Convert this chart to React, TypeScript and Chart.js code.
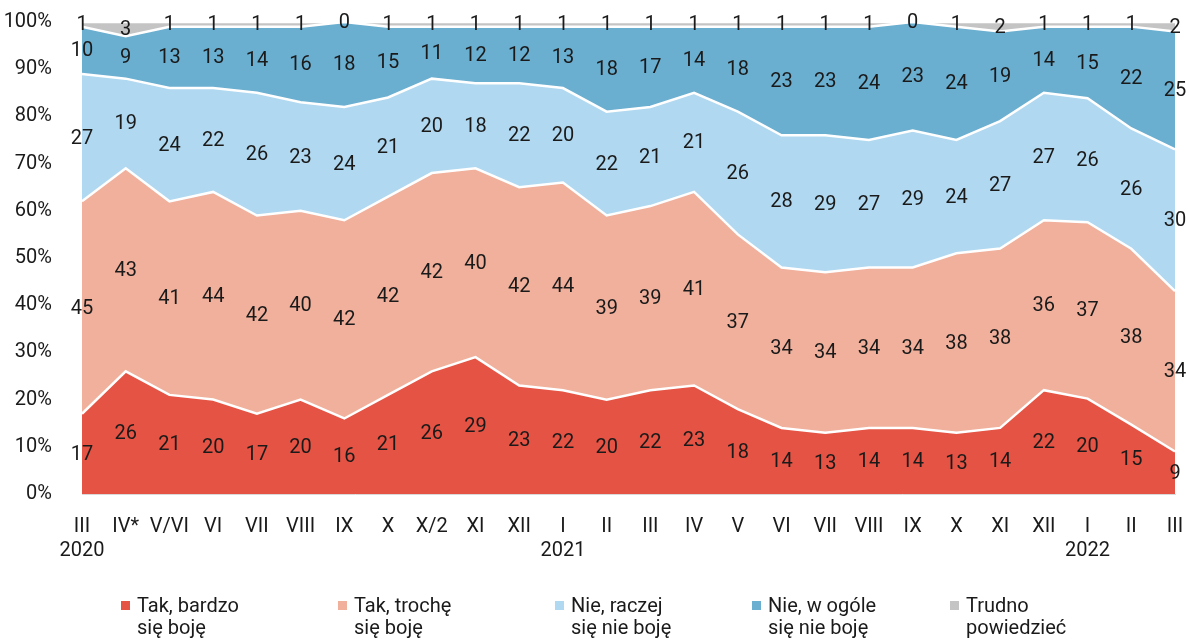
import React, { useEffect, useRef } from "react";
import { Chart, registerables } from "chart.js";

Chart.register(...registerables);

const categories: (string | string[])[] = [
  ["III", "2020"], "IV*", "V/VI", "VI", "VII", "VIII", "IX", "X", "X/2", "XI", "XII",
  ["I", "2021"], "II", "III", "IV", "V", "VI", "VII", "VIII", "IX", "X", "XI", "XII",
  ["I", "2022"], "II", "III",
];

const takBardzo = [17, 26, 21, 20, 17, 20, 16, 21, 26, 29, 23, 22, 20, 22, 23, 18, 14, 13, 14, 14, 13, 14, 22, 20, 15, 9];
const takTroche = [45, 43, 41, 44, 42, 40, 42, 42, 42, 40, 42, 44, 39, 39, 41, 37, 34, 34, 34, 34, 38, 38, 36, 37, 38, 34];
const nieRaczej = [27, 19, 24, 22, 26, 23, 24, 21, 20, 18, 22, 20, 22, 21, 21, 26, 28, 29, 27, 29, 24, 27, 27, 26, 26, 30];
const nieWOgole = [10, 9, 13, 13, 14, 16, 18, 15, 11, 12, 12, 13, 18, 17, 14, 18, 23, 23, 24, 23, 24, 19, 14, 15, 22, 25];
const trudno = [1, 3, 1, 1, 1, 1, 0, 1, 1, 1, 1, 1, 1, 1, 1, 1, 1, 1, 1, 0, 1, 2, 1, 1, 1, 2];

const seriesNames: string[][] = [
  ["Tak, bardzo", "się boję"],
  ["Tak, trochę", "się boję"],
  ["Nie, raczej", "się nie boję"],
  ["Nie, w ogóle", "się nie boję"],
  ["Trudno", "powiedzieć"],
];
const colors = ["#E45343", "#F0B09C", "#B0D8F0", "#6AAED0", "#C4C4C4"];

const yTicks = [0, 10, 20, 30, 40, 50, 60, 70, 80, 90, 100];

const FONT = "Roboto, 'Noto Sans', sans-serif";
const TEXT = "#1a1a1a";

export default function App() {
  const ref = useRef<HTMLCanvasElement>(null);

  useEffect(() => {
    document.body.style.margin = "0";
    const raw = [takBardzo, takTroche, nieRaczej, nieWOgole, trudno];
    const totals = categories.map((_, j) => raw.reduce((s, a) => s + a[j], 0));
    const shares = raw.map((a) => a.map((v, j) => (v * 100) / totals[j]));

    const labelPlugin = {
      id: "bandLabels",
      afterDatasetsDraw(chart: any) {
        const { ctx, scales } = chart;
        const x = scales.x, y = scales.y;
        ctx.save();
        ctx.font = `20px ${FONT}`;
        ctx.fillStyle = TEXT;
        ctx.textAlign = "center";
        ctx.textBaseline = "middle";
        categories.forEach((_, j) => {
          let cum = 0;
          shares.forEach((arr, i) => {
            const mid = cum + arr[j] / 2;
            cum += arr[j];
            ctx.fillText(String(raw[i][j]), x.getPixelForValue(j), y.getPixelForValue(mid) + 1);
          });
        });
        ctx.restore();
      },
    };

    const legendX = [121, 338, 555, 752, 950];
    const legendPlugin = {
      id: "customLegend",
      afterDraw(chart: any) {
        const { ctx } = chart;
        ctx.save();
        ctx.font = `20px ${FONT}`;
        ctx.fillStyle = TEXT;
        ctx.textAlign = "left";
        ctx.textBaseline = "alphabetic";
        seriesNames.forEach((lines, i) => {
          const lx = legendX[i];
          ctx.fillStyle = colors[i];
          ctx.fillRect(lx, 601, 9, 9);
          ctx.fillStyle = TEXT;
          lines.forEach((t, k) => ctx.fillText(t, lx + 16, 612 + k * 22));
        });
        ctx.restore();
      },
    };

    const chart = new Chart(ref.current!, {
      type: "line",
      data: {
        labels: categories as any,
        datasets: shares.map((d, i) => ({
          label: seriesNames[i].join(" "),
          data: d,
          backgroundColor: colors[i],
          borderColor: "#ffffff",
          borderWidth: 2.5,
          pointRadius: 0,
          tension: 0,
          fill: i === 0 ? "origin" : "-1",
        })),
      },
      options: {
        responsive: false,
        animation: false,
        devicePixelRatio: 1,
        layout: { padding: { left: 0, right: 14, top: 22, bottom: 68 } },
        plugins: {
          legend: { display: false },
          tooltip: { enabled: false },
        },
        scales: {
          x: {
            type: "category",
            offset: false,
            grid: { display: false },
            border: { display: true, color: "#d9d9d9", width: 1 },
            ticks: {
              color: TEXT,
              font: { family: FONT, size: 20, lineHeight: 1.2 },
              padding: 13,
              autoSkip: false,
              maxRotation: 0,
              minRotation: 0,
            },
            afterFit(scale: any) {
              scale.height = 80;
              scale.paddingLeft = 0;
              scale.paddingRight = 0;
            },
          },
          y: {
            stacked: true,
            min: 0,
            max: 100,
            grid: { display: false },
            border: { display: false },
            afterBuildTicks(scale: any) {
              scale.ticks = yTicks.map((v) => ({ value: v }));
            },
            ticks: {
              color: TEXT,
              font: { family: FONT, size: 20 },
              padding: 22,
              callback: (v: any) => `${v}%`,
            },
            afterFit(scale: any) {
              scale.width = 82;
              scale.paddingTop = 0;
              scale.paddingBottom = 0;
            },
          },
        },
      },
      plugins: [labelPlugin, legendPlugin],
    });
    return () => chart.destroy();
  }, []);

  return <canvas ref={ref} width={1189} height={642} style={{ display: "block" }} />;
}
